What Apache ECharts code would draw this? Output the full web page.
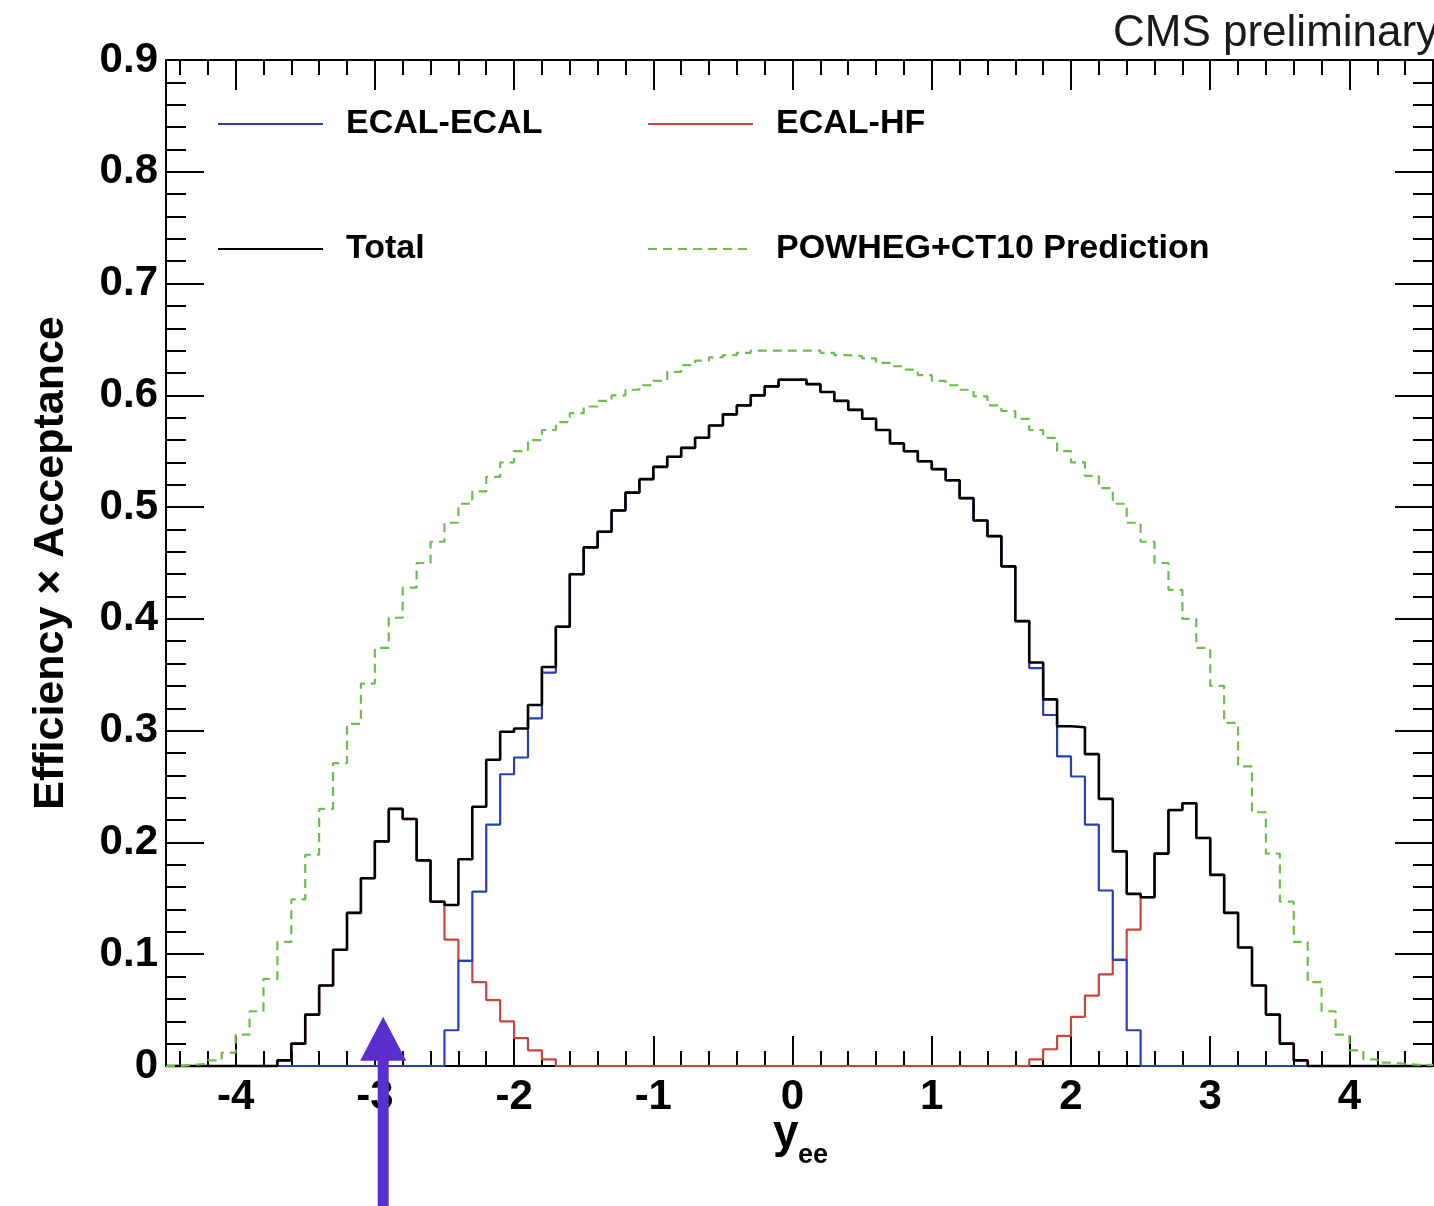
<!DOCTYPE html>
<html>
<head>
<meta charset="utf-8">
<script src="https://cdn.jsdelivr.net/npm/echarts@6/dist/echarts.min.js"></script>
<style>
html,body{margin:0;padding:0;background:#ffffff;}
#chart{width:1434px;height:1206px;}
</style>
</head>
<body>
<div id="chart"></div>
<script>
// ---- Data ----
const xMin = -4.5;
const xMax = 4.6;
const binWidth = 0.1;
const xTickLabels = [-4, -3, -2, -1, 0, 1, 2, 3, 4];
const yTickLabels = [0, 0.1, 0.2, 0.3, 0.4, 0.5, 0.6, 0.7, 0.8, 0.9];

// Total efficiency x acceptance, bins of 0.1 starting at -4.5
const totalValues = [
  0, 0, 0, 0, 0, 0, 0, 0,
  0.005, 0.020, 0.046, 0.072, 0.104, 0.137, 0.168, 0.201, 0.230, 0.221, 0.184, 0.147,
  0.144, 0.185, 0.232, 0.274, 0.299, 0.302, 0.323, 0.357, 0.393, 0.440,
  0.464, 0.478, 0.497, 0.513, 0.525, 0.536, 0.545, 0.553, 0.562, 0.573,
  0.583, 0.591, 0.600, 0.608, 0.614, 0.614, 0.610, 0.603, 0.595, 0.587,
  0.579, 0.569, 0.557, 0.550, 0.541, 0.534, 0.524, 0.508, 0.488, 0.474,
  0.447, 0.398, 0.361, 0.328, 0.304, 0.303, 0.279, 0.239, 0.192, 0.154,
  0.151, 0.190, 0.229, 0.235, 0.204, 0.171, 0.137, 0.106, 0.072, 0.046,
  0.020, 0.005,
  0, 0, 0, 0, 0, 0, 0, 0, 0
];

// ECAL-ECAL
const ecalEcalValues = [
  0, 0, 0, 0, 0, 0, 0, 0, 0, 0, 0, 0, 0, 0, 0, 0, 0, 0, 0, 0,
  0.032, 0.094, 0.156, 0.216, 0.261, 0.276, 0.311, 0.352, 0.393,
  0.440, 0.464, 0.478, 0.497, 0.513, 0.525, 0.536, 0.545, 0.553, 0.562,
  0.573, 0.583, 0.591, 0.600, 0.608, 0.614, 0.614, 0.610, 0.603, 0.595,
  0.587, 0.579, 0.569, 0.557, 0.550, 0.541, 0.534, 0.524, 0.508, 0.488,
  0.474, 0.447,
  0.398, 0.356, 0.314, 0.277, 0.259, 0.216, 0.157, 0.095, 0.032,
  0, 0, 0, 0, 0, 0, 0, 0, 0, 0, 0, 0, 0, 0, 0, 0, 0, 0, 0, 0, 0
];

// ECAL-HF
const ecalHfValues = [
  0, 0, 0, 0, 0, 0, 0, 0,
  0.005, 0.020, 0.046, 0.072, 0.104, 0.137, 0.168, 0.201, 0.230, 0.221, 0.184, 0.147,
  0.113, 0.094, 0.075, 0.059, 0.040, 0.025, 0.014, 0.006,
  0, 0, 0, 0, 0, 0, 0, 0, 0, 0, 0, 0, 0, 0, 0, 0, 0,
  0, 0, 0, 0, 0, 0, 0, 0, 0, 0, 0, 0, 0, 0, 0, 0, 0,
  0.006, 0.015, 0.027, 0.044, 0.063, 0.082, 0.095, 0.122,
  0.151, 0.190, 0.229, 0.235, 0.204, 0.171, 0.137, 0.106, 0.072, 0.046,
  0.020, 0.005,
  0, 0, 0, 0, 0, 0, 0, 0, 0
];

// POWHEG+CT10 prediction
const predictionValues = [
  0, 0.001, 0.002, 0.005, 0.012, 0.028, 0.049, 0.078, 0.111, 0.149,
  0.189, 0.230, 0.271, 0.306, 0.342, 0.374, 0.401, 0.428, 0.450, 0.469,
  0.486, 0.503, 0.514, 0.527, 0.540, 0.550, 0.560, 0.569, 0.576, 0.584,
  0.590, 0.595, 0.600, 0.605, 0.609, 0.613, 0.621, 0.627, 0.631, 0.634,
  0.636, 0.638, 0.640, 0.640, 0.640, 0.640, 0.640, 0.638, 0.636, 0.635,
  0.633, 0.629, 0.626, 0.623, 0.618, 0.613, 0.609, 0.605, 0.599, 0.591,
  0.586, 0.579, 0.569, 0.562, 0.550, 0.540, 0.528, 0.517, 0.503, 0.486,
  0.469, 0.450, 0.426, 0.400, 0.374, 0.340, 0.307, 0.268, 0.227, 0.190,
  0.147, 0.111, 0.075, 0.049, 0.028, 0.014, 0.006, 0.003, 0.002, 0.001,
  0.001
];

// annotation arrow position (data coordinates)
const arrowX = -2.94;
const arrowTipY = 0.044;

// ---- Build ----
const nBins = totalValues.length;
const binEdges = [];
for (let i = 0; i <= nBins; i++) binEdges.push(+(xMin + i * binWidth).toFixed(2));

function histPoints(vals) {
  const pts = vals.map((v, i) => [binEdges[i], v]);
  pts.push([binEdges[vals.length], vals[vals.length - 1]]);
  return pts;
}

const xMinorTicks = [];
for (let k = -44; k <= 44; k += 2) { if (k % 10 !== 0) xMinorTicks.push(k / 10); }

const FONT = "'Liberation Sans', Arial, Helvetica, sans-serif";
const BLACK = '#000000';

const chart = echarts.init(document.getElementById('chart'), null, { renderer: 'canvas' });

function xAxisDef(position, ticks, len, showLine, showLabels) {
  return {
    type: 'value', min: xMin, max: xMax, position: position, gridIndex: 0,
    axisLine: { show: showLine, onZero: false, lineStyle: { color: BLACK, width: 2 } },
    axisTick: { show: true, inside: true, length: len, customValues: ticks, lineStyle: { color: BLACK, width: 2 } },
    axisLabel: showLabels ? {
      show: true, customValues: xTickLabels, color: BLACK, fontFamily: FONT, fontWeight: 'bold',
      fontSize: 42, margin: 10, formatter: v => String(v)
    } : { show: false },
    splitLine: { show: false }
  };
}

function yAxisDef(position, showLabels) {
  return {
    type: 'value', min: 0, max: 0.9, interval: 0.1, position: position, gridIndex: 0,
    axisLine: { show: true, onZero: false, lineStyle: { color: BLACK, width: 2 } },
    axisTick: { show: true, inside: true, length: 38, lineStyle: { color: BLACK, width: 2 } },
    minorTick: { show: true, splitNumber: 5, length: 20, lineStyle: { color: BLACK, width: 2 } },
    axisLabel: showLabels ? {
      show: true, color: BLACK, fontFamily: FONT, fontWeight: 'bold', fontSize: 42, margin: 8,
      customValues: yTickLabels,
      formatter: v => (Math.abs(v) < 1e-9 ? '0' : v.toFixed(1))
    } : { show: false },
    name: showLabels ? 'Efficiency \u00d7 Acceptance' : '',
    nameLocation: 'middle',
    nameGap: 93,
    nameTextStyle: { color: BLACK, fontFamily: FONT, fontWeight: 'bold', fontSize: 43 },
    splitLine: { show: false },
    minorSplitLine: { show: false }
  };
}

function histSeries(name, vals, color, width, type, z) {
  return {
    name: name, type: 'line', step: 'end', symbol: 'none', showSymbol: false,
    xAxisIndex: 0, yAxisIndex: 0, z: z, clip: false,
    data: histPoints(vals),
    lineStyle: { color: color, width: width, type: type },
    itemStyle: { color: color },
    emphasis: { disabled: true },
    animation: false
  };
}

const legendCommon = {
  orient: 'vertical', top: 104, itemWidth: 105, itemHeight: 40, itemGap: 85,
  padding: 0,
  selectedMode: false,
  itemStyle: { opacity: 0 },
  textStyle: { color: BLACK, fontFamily: FONT, fontWeight: 'bold', fontSize: 34, lineHeight: 40, padding: [0, 0, 0, 18] }
};

const staticGraphics = [
  { type: 'text', x: 1113, y: 12, z: 10,
    style: { text: 'CMS preliminary', fill: '#1a1a1a', font: "44px 'Liberation Sans', Arial, sans-serif", verticalAlign: 'top' } },
  { type: 'text', x: 773, y: 1134, z: 10,
    style: { text: 'y', fill: BLACK, font: "bold 46px 'Liberation Sans', Arial, sans-serif", verticalAlign: 'middle' } },
  { type: 'text', x: 798, y: 1156, z: 10,
    style: { text: 'ee', fill: BLACK, font: "bold 27px 'Liberation Sans', Arial, sans-serif", verticalAlign: 'middle' } }
];

chart.setOption({
  animation: false,
  backgroundColor: '#ffffff',
  grid: { left: 166, right: 1, top: 60, bottom: 140, containLabel: false, outerBoundsMode: 'none' },
  xAxis: [
    xAxisDef('bottom', xTickLabels, 30, true, true),
    xAxisDef('bottom', xMinorTicks, 15, false, false),
    xAxisDef('top', xTickLabels, 30, true, false),
    xAxisDef('top', xMinorTicks, 15, false, false)
  ],
  yAxis: [
    yAxisDef('left', true),
    yAxisDef('right', false)
  ],
  legend: [
    Object.assign({}, legendCommon, { left: 217, data: ['ECAL-ECAL', 'Total'] }),
    Object.assign({}, legendCommon, { left: 647, data: ['ECAL-HF', 'POWHEG+CT10 Prediction'] })
  ],
  series: [
    histSeries('ECAL-HF', ecalHfValues, '#c9473a', 2.2, 'solid', 2),
    histSeries('ECAL-ECAL', ecalEcalValues, '#2540b4', 2.2, 'solid', 3),
    histSeries('Total', totalValues, '#000000', 2.6, 'solid', 4),
    histSeries('POWHEG+CT10 Prediction', predictionValues, '#6cbf4c', 2.2, [9, 6], 5)
  ],
  graphic: staticGraphics
});

// annotation arrow, placed from data coordinates
const tip = chart.convertToPixel({ xAxisIndex: 0, yAxisIndex: 0 }, [arrowX, arrowTipY]);
const headH = 44, headW = 46, shaftW = 11;
chart.setOption({
  graphic: staticGraphics.concat([
    { type: 'rect', z: 20,
      shape: { x: tip[0] - shaftW / 2, y: tip[1] + headH - 2, width: shaftW, height: 1206 - (tip[1] + headH - 2) },
      style: { fill: '#5a2ecf' } },
    { type: 'polygon', z: 20,
      shape: { points: [[tip[0], tip[1]], [tip[0] - headW / 2, tip[1] + headH], [tip[0] + headW / 2, tip[1] + headH]] },
      style: { fill: '#5a2ecf' } }
  ])
}, { replaceMerge: ['graphic'] });
</script>
</body>
</html>
